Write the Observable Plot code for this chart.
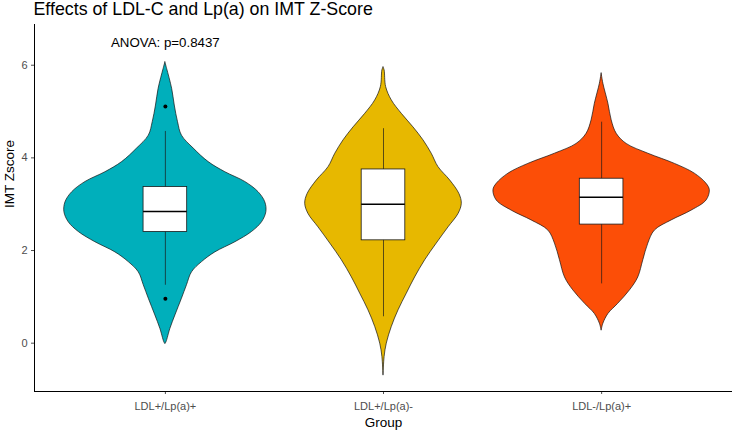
<!DOCTYPE html>
<html>
<head>
<meta charset="utf-8">
<script src="https://cdn.jsdelivr.net/npm/d3@7"></script>
<script src="https://cdn.jsdelivr.net/npm/@observablehq/plot@0.6"></script>
<style>
  html, body { margin: 0; padding: 0; background: #fff; }
</style>
</head>
<body>
<div id="chart"></div>
<script>
const titleText = "Effects of LDL-C and Lp(a) on IMT Z-Score";
const xTitle = "Group";
const yTitle = "IMT Zscore";
const groups = ["LDL+/Lp(a)+", "LDL+/Lp(a)-", "LDL-/Lp(a)+"];
const colors = ["#00AFBB", "#E7B800", "#FC4E07"];
const yTicks = [0, 2, 4, 6];
const anova = {text: "ANOVA: p=0.8437", group: 0, value: 6.49};

// violin profiles: [IMT Zscore, half width of the density in category units]
const violin1 = [[6.06,0],[5.92,0.008],[5.49,0.031],[5.13,0.043],[4.77,0.058],[4.48,0.076],[4.20,0.130],[3.91,0.198],[3.69,0.275],[3.48,0.366],[3.26,0.427],[3.04,0.458],[2.83,0.463],[2.61,0.443],[2.40,0.397],[2.18,0.321],[1.96,0.229],[1.75,0.168],[1.53,0.122],[1.25,0.099],[0.96,0.076],[0.60,0.046],[0.31,0.023],[0.02,0.005],[-0.02,0]];
const violin2 = [[5.95,0],[5.89,0.005],[5.53,0.012],[5.24,0.038],[4.95,0.084],[4.66,0.137],[4.38,0.183],[4.09,0.221],[3.80,0.252],[3.51,0.306],[3.22,0.348],[3.01,0.359],[2.79,0.344],[2.50,0.298],[2.15,0.244],[1.79,0.191],[1.42,0.145],[1.07,0.107],[0.71,0.069],[0.35,0.038],[-0.01,0.015],[-0.30,0.005],[-0.70,0]];
const violin3 = [[5.82,0],[5.60,0.008],[5.17,0.031],[4.81,0.046],[4.52,0.069],[4.30,0.115],[4.09,0.214],[3.87,0.336],[3.66,0.427],[3.44,0.481],[3.30,0.496],[3.08,0.481],[2.86,0.412],[2.65,0.321],[2.43,0.244],[2.15,0.214],[1.79,0.191],[1.42,0.168],[1.14,0.130],[0.85,0.076],[0.63,0.031],[0.42,0.008],[0.27,0]];
const violins = [violin1, violin2, violin3];

// box plot statistics
const q1 = [2.40, 2.22, 2.56];
const medians = [2.84, 3.00, 3.15];
const q3 = [3.37, 3.75, 3.55];
const whiskerLow = [1.25, 0.57, 1.28];
const whiskerHigh = [4.57, 4.63, 4.77];
const outlierGroup = [0, 0];
const outlierValue = [5.11, 0.96];

const violinRows = violins.flatMap((prof, gi) =>
  prof.map(([v, hw]) => ({group: groups[gi], i: gi + 1, v, hw})));
const boxes = groups.map((g, gi) => ({group: g, i: gi + 1, q1: q1[gi], med: medians[gi], q3: q3[gi], lo: whiskerLow[gi], hi: whiskerHigh[gi]}));
const outliers = outlierValue.map((v, k) => ({i: outlierGroup[k] + 1, v}));

const yDomain = [-1.043, 6.879];
const xDomain = [0.4, 3.6];
const boxHalf = 0.1;

const chart = Plot.plot({
  width: 733,
  height: 433,
  marginTop: 24,
  marginLeft: 34,
  marginRight: 1,
  marginBottom: 42,
  style: {fontFamily: "'Liberation Sans', Arial, sans-serif", fontSize: "11px", background: "#fff", overflow: "visible"},
  x: {domain: xDomain, axis: null},
  y: {domain: yDomain, axis: null},
  color: {domain: groups, range: colors},
  marks: [
    Plot.areaX(violinRows, {y: "v", x1: d => d.i - d.hw, x2: d => d.i + d.hw, z: "group", fill: "group", stroke: "#111", strokeWidth: 0.7, curve: "catmull-rom"}),
    Plot.ruleX(boxes, {x: "i", y1: "lo", y2: "hi", stroke: "#1a1a1a", strokeWidth: 0.7}),
    Plot.rect(boxes, {x1: d => d.i - boxHalf, x2: d => d.i + boxHalf, y1: "q1", y2: "q3", fill: "white", stroke: "#1a1a1a", strokeWidth: 0.8}),
    Plot.ruleY(boxes, {y: "med", x1: d => d.i - boxHalf, x2: d => d.i + boxHalf, stroke: "black", strokeWidth: 1.5}),
    Plot.dot(outliers, {x: "i", y: "v", r: 2, fill: "black", stroke: null}),
    Plot.axisX({ticks: [1, 2, 3], tickFormat: i => groups[i - 1], tickSize: 3, tickPadding: 8, label: null, color: "#4D4D4D", fontSize: 11}),
    Plot.axisY({ticks: yTicks, tickSize: 3, tickPadding: 4, label: null, color: "#4D4D4D", fontSize: 11}),
    Plot.ruleX([xDomain[0]], {stroke: "black", strokeWidth: 1}),
    Plot.ruleY([yDomain[0]], {stroke: "black", strokeWidth: 1}),
    Plot.text([anova], {x: d => d.group + 1, y: "value", text: "text", fontSize: 13.3, fill: "black"}),
    Plot.text([titleText], {frameAnchor: "top-left", text: d => d, dx: -1, dy: -22, lineAnchor: "top", textAnchor: "start", fontSize: 17.8, fill: "black"}),
    Plot.text([yTitle], {frameAnchor: "left", text: d => d, dx: -25, rotate: -90, fontSize: 13.5, fill: "black"}),
    Plot.text([xTitle], {frameAnchor: "bottom", text: d => d, dy: 35, fontSize: 13.5, fill: "black"})
  ]
});
document.getElementById("chart").appendChild(chart);
</script>
</body>
</html>
